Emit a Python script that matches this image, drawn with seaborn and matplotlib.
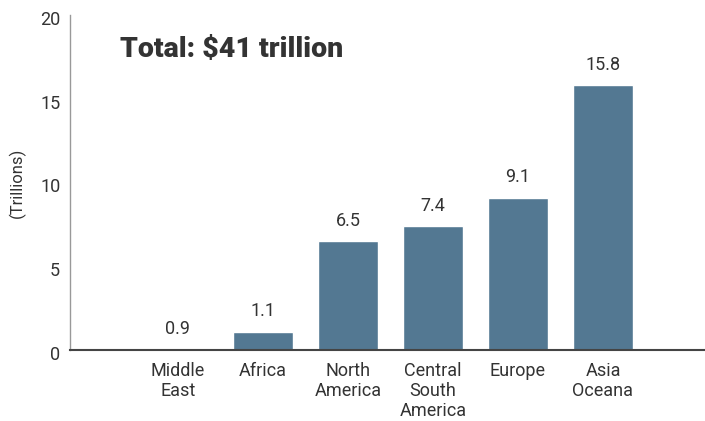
import matplotlib
matplotlib.use("Agg")
import matplotlib.pyplot as plt
import matplotlib.transforms as mtransforms
import seaborn as sns
import pandas as pd

regions = ["Middle\nEast", "Africa", "North\nAmerica", "Central\nSouth\nAmerica", "Europe", "Asia\nOceana"]
bar_heights = [0.05, 1.1, 6.5, 7.4, 9.1, 15.8]
value_labels = ["0.9", "1.1", "6.5", "7.4", "9.1", "15.8"]
y_ticks = [0, 5, 10, 15, 20]
title_text = "Total: $41 trillion"
y_title = "(Trillions)"

sns.set_theme(style="white")
plt.rcParams['font.family'] = ['Roboto', 'DejaVu Sans']

df = pd.DataFrame({"region": regions, "value": bar_heights})

fig = plt.figure(figsize=(7.05, 4.21), dpi=100)
ax = fig.add_axes([70/705, 71/421, 1 - 70/705, (350-15)/421])
sns.barplot(data=df, x="region", y="value", color="#537892", saturation=1,
            width=0.7, ax=ax)

txt = "#333333"
for i, (h, lab) in enumerate(zip(bar_heights, value_labels)):
    ax.annotate(lab, (i, h), xytext=(0, 8), textcoords="offset points",
                ha="center", va="bottom", fontsize=13, color=txt)

ax.set_xlim(-1.27, 6.2)
ax.set_ylim(0, 20)
ax.set_yticks(y_ticks)
ax.set_yticklabels([str(t) for t in y_ticks], fontsize=13, color=txt)
ax.tick_params(axis="x", labelsize=13, labelcolor=txt, pad=9, length=0)
ax.tick_params(axis="y", pad=7, length=0)
shift = mtransforms.ScaledTranslation(0, -3/100, fig.dpi_scale_trans)
for lab in ax.get_yticklabels():
    lab.set_transform(lab.get_transform() + shift)
ax.set_xlabel("")
ax.set_ylabel(y_title, fontsize=12, color=txt)
ax.yaxis.set_label_coords(-0.07, 0.5)
for s in ["top", "right"]:
    ax.spines[s].set_visible(False)
ax.spines["left"].set_color("#999999")
ax.spines["left"].set_linewidth(1.0)
ax.spines["bottom"].set_color("#444444")
ax.spines["bottom"].set_linewidth(1.5)
for lab in ax.get_xticklabels():
    lab.set_linespacing(1.12)

fig.text(120/705, 1 - 49/421, title_text, fontsize=20.5, fontweight="heavy",
         color="#333333", ha="left", va="center")

fig.savefig("out.png", dpi=100)
